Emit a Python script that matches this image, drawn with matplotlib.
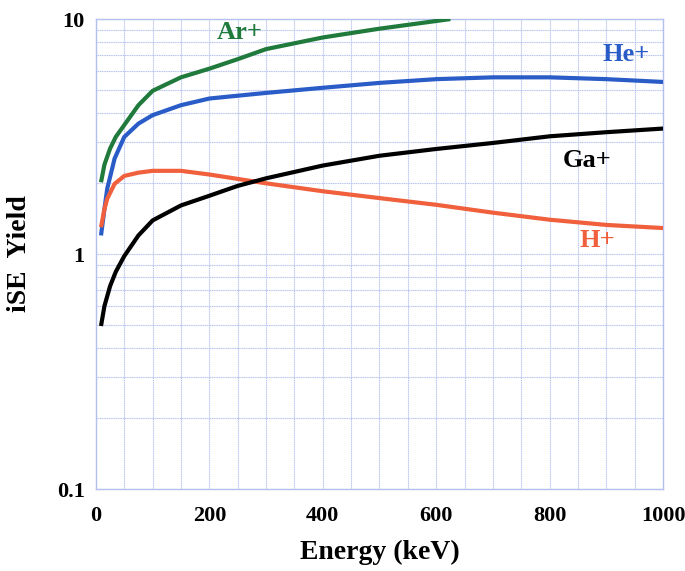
import matplotlib.pyplot as plt
from matplotlib.ticker import FixedLocator, LogLocator, NullFormatter

# Energy (keV) and iSE yield values
ar_energy = [9, 15, 25, 35, 50, 75, 100, 150, 200, 250, 300, 400, 500, 625]
ar_yield = [2.02, 2.4, 2.81, 3.15, 3.54, 4.3, 4.95, 5.65, 6.15, 6.75, 7.45, 8.35, 9.1, 10.0]

he_energy = [9, 15, 20, 33, 50, 75, 100, 150, 200, 300, 400, 500, 600, 700, 800, 900, 1000]
he_yield = [1.2, 1.55, 1.9, 2.55, 3.15, 3.59, 3.9, 4.3, 4.59, 4.85, 5.1, 5.35, 5.55, 5.65, 5.65, 5.55, 5.4]

h_energy = [9, 15, 20, 33, 50, 75, 100, 150, 200, 300, 400, 500, 600, 700, 800, 900, 1000]
h_yield = [1.3, 1.55, 1.72, 1.99, 2.15, 2.22, 2.26, 2.26, 2.18, 2.0, 1.85, 1.73, 1.62, 1.5, 1.4, 1.33, 1.29]

ga_energy = [9, 15, 25, 35, 50, 75, 100, 150, 200, 250, 300, 400, 500, 600, 700, 800, 900, 1000]
ga_yield = [0.494, 0.6, 0.73, 0.84, 0.98, 1.2, 1.39, 1.61, 1.77, 1.95, 2.1, 2.38, 2.62, 2.8, 2.97, 3.17, 3.3, 3.42]

x_ticks = [0, 200, 400, 600, 800, 1000]
y_ticks = [0.1, 1, 10]
y_tick_labels = ["0.1", "1", "10"]

GREEN = "#1f7a3c"
BLUE = "#2a5cc8"
RED = "#f0603c"
GRID = "#b4c0ee"

plt.rcParams["font.family"] = ["Liberation Serif", "DejaVu Serif"]
plt.rcParams["font.weight"] = "bold"

fig = plt.figure(figsize=(6.85, 5.71), dpi=100)
ax = fig.add_axes([0.140, 0.1436, 0.828, 0.823])

for xs, ys, c in [(ar_energy, ar_yield, GREEN), (he_energy, he_yield, BLUE),
                  (h_energy, h_yield, RED), (ga_energy, ga_yield, "black")]:
    ax.plot(xs, ys, color=c, lw=3.0, solid_capstyle="butt",
            solid_joinstyle="round", zorder=3)

ax.set_yscale("log")
ax.set_xlim(0, 1000)
ax.set_ylim(0.1, 10)

ax.xaxis.set_major_locator(FixedLocator(x_ticks))
ax.xaxis.set_minor_locator(FixedLocator(list(range(0, 1001, 50))))
ax.yaxis.set_major_locator(FixedLocator(y_ticks))
ax.set_yticklabels(y_tick_labels)
ax.yaxis.set_minor_locator(LogLocator(base=10, subs=range(2, 10)))
ax.yaxis.set_minor_formatter(NullFormatter())

ax.grid(True, which="both", color=GRID, lw=0.8, ls=(0, (1, 0.6)))
ax.set_axisbelow(True)
ax.tick_params(which="both", length=0, labelsize=16)
ax.tick_params(axis="x", pad=12)
ax.tick_params(axis="y", pad=8)
for lbl in ax.get_xticklabels() + ax.get_yticklabels():
    lbl.set_fontweight("bold")
for sp in ax.spines.values():
    sp.set_color(GRID)
    sp.set_linewidth(1.0)

ax.set_xlabel("Energy (keV)", fontsize=20, fontweight="bold", labelpad=10)
ax.set_ylabel("iSE  Yield", fontsize=20, fontweight="bold", labelpad=18)

ax.text(254, 8.74, "Ar+", color=GREEN, fontsize=19, fontweight="bold", ha="center", va="center")
ax.text(935, 7.08, "He+", color=BLUE, fontsize=19, fontweight="bold", ha="center", va="center")
ax.text(866, 2.5, "Ga+", color="black", fontsize=19, fontweight="bold", ha="center", va="center")
ax.text(884, 1.14, "H+", color=RED, fontsize=19, fontweight="bold", ha="center", va="center")

fig.savefig("out.png", dpi=100)
